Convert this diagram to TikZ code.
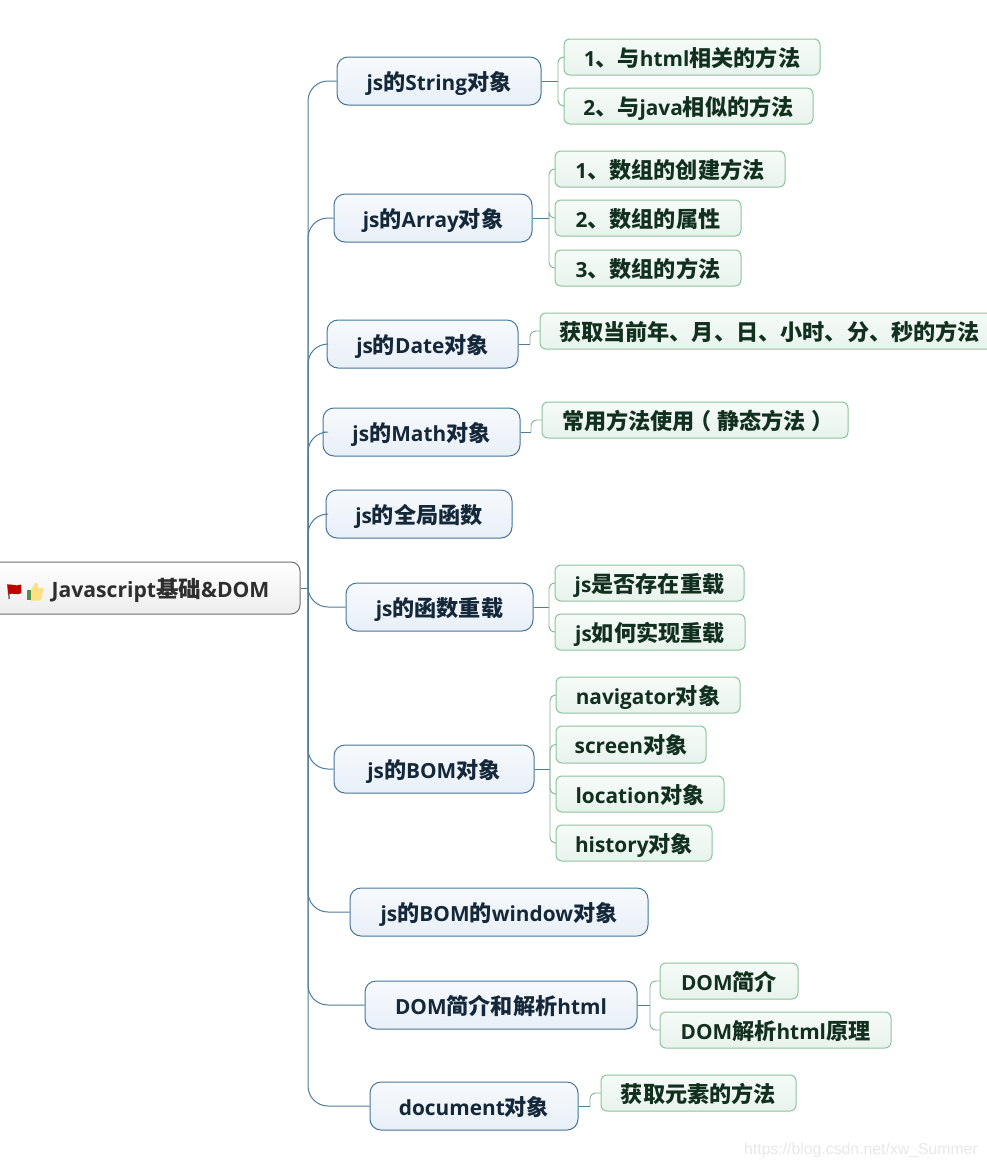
\documentclass[tikz,border=0pt]{standalone}
\usepackage{fontspec}
\setmainfont{Open Sans}[BoldFont={Open Sans Bold},Scale=0.94]
\newfontfamily\cjk{Noto Sans CJK SC}
\newfontfamily\wm{Liberation Sans}
\newcommand{\Zh}[1]{{\cjk #1}}
\newcommand{\Zl}{\hspace{-6pt}\Zh{（}\hspace{6pt}}
\newcommand{\Zr}{\hspace{6pt}\Zh{）}\hspace{-6pt}}
\definecolor{rootline}{HTML}{6E6E70}
\definecolor{oneline}{HTML}{47759A}
\definecolor{twoline}{HTML}{8CC49E}
\definecolor{trunk}{HTML}{4F7C9C}
\definecolor{twolink}{HTML}{86B596}
\definecolor{onetext}{HTML}{14283A}
\definecolor{twotext}{HTML}{12301F}
\definecolor{onetop}{HTML}{F7FAFD}
\definecolor{onebot}{HTML}{E8EFF7}
\definecolor{twotop}{HTML}{F6FBF7}
\definecolor{twobot}{HTML}{E8F3EC}
\tikzset{
  x=1pt,y=-1pt,
  boxbase/.style={rounded corners=9pt,line width=1pt,font=\bfseries\fontsize{22.15}{24}\selectfont,align=center,inner sep=0pt},
  rootbox/.style={boxbase,draw=rootline,top color=white,bottom color=black!7,text=black!82,font=\bfseries\fontsize{22.5}{24}\selectfont},
  onebox/.style={boxbase,rounded corners=11pt,draw=oneline,top color=onetop,bottom color=onebot,text=onetext},
  twobox/.style={boxbase,rounded corners=6pt,draw=twoline,top color=twotop,bottom color=twobot,text=twotext},
  trunkline/.style={draw=trunk,line width=1pt,rounded corners=20pt},
  stub/.style={draw=trunk,line width=.8pt},
  twolinkline/.style={draw=twolink,line width=.9pt,rounded corners=6pt},
}
% style, name, x1, y1, x2, y2, text
\newcommand{\BX}[7]{%
  \pgfmathsetmacro{\cxx}{(#3+#5)/2}\pgfmathsetmacro{\cyy}{(#4+#6)/2}%
  \pgfmathsetmacro{\wdd}{#5-#3}\pgfmathsetmacro{\htt}{#6-#4}%
  \node[#1,minimum width=\wdd pt,minimum height=\htt pt] (#2) at (\cxx,\cyy) {\raisebox{-9pt}[0pt][0pt]{#7}};}
\begin{document}
\begin{tikzpicture}
\useasboundingbox (0,0) rectangle (987,1168);
\clip (0,0) rectangle (987,1168);
\fill[white] (0,0) rectangle (987,1168);
% boxes
\BX{rootbox}{root}{-14}{562}{300}{614}{\hspace*{35pt}Javascript\Zh{基础}\&DOM}
\BX{onebox}{a}{337}{57}{541}{105}{js\Zh{的}String\Zh{对象}}
\BX{onebox}{b}{334}{194}{532}{242}{js\Zh{的}Array\Zh{对象}}
\BX{onebox}{c}{327}{320}{518}{368}{js\Zh{的}Date\Zh{对象}}
\BX{onebox}{d}{323}{408}{520}{456}{js\Zh{的}Math\Zh{对象}}
\BX{onebox}{e}{326}{490}{512}{538}{js\Zh{的全局函数}}
\BX{onebox}{f}{346}{583}{533}{631}{js\Zh{的函数重载}}
\BX{onebox}{g}{334}{745}{534}{793}{js\Zh{的}BOM\Zh{对象}}
\BX{onebox}{h}{350}{888}{648}{936}{js\Zh{的}BOM\Zh{的}window\Zh{对象}}
\BX{onebox}{i}{365}{981}{637}{1029}{DOM\Zh{简介和解析}html}
\BX{onebox}{j}{370}{1082}{578}{1130}{document\Zh{对象}}
\BX{twobox}{a1}{564}{39}{820}{75}{1\Zh{、与}html\Zh{相关的方法}}
\BX{twobox}{a2}{564}{88}{813}{124}{2\Zh{、与}java\Zh{相似的方法}}
\BX{twobox}{b1}{555}{151}{785}{187}{1\Zh{、数组的创建方法}}
\BX{twobox}{b2}{555}{200}{741}{236}{2\Zh{、数组的属性}}
\BX{twobox}{b3}{555}{250}{741}{286}{3\Zh{、数组的方法}}
\BX{twobox}{c1}{540}{313}{999}{349}{\Zh{获取当前年、月、日、小时、分、秒的方法}}
\BX{twobox}{d1}{542}{402}{848}{438}{\Zh{常用方法使用}\Zl\Zh{静态方法}\Zr}
\BX{twobox}{f1}{555}{565}{744}{601}{js\Zh{是否存在重载}}
\BX{twobox}{f2}{555}{614}{745}{650}{js\Zh{如何实现重载}}
\BX{twobox}{g1}{556}{677}{740}{713}{navigator\Zh{对象}}
\BX{twobox}{g2}{556}{726}{706}{763}{screen\Zh{对象}}
\BX{twobox}{g3}{556}{776}{724}{812}{location\Zh{对象}}
\BX{twobox}{g4}{556}{825}{712}{861}{history\Zh{对象}}
\BX{twobox}{i1}{660}{963}{798}{999}{DOM\Zh{简介}}
\BX{twobox}{i2}{660}{1012}{891}{1048}{DOM\Zh{解析}html\Zh{原理}}
\BX{twobox}{j1}{601}{1075}{796}{1111}{\Zh{获取元素的方法}}
% trunk
\coordinate (hub) at (308,588);
\draw[stub] (root.east) -- (hub);
\foreach \n in {a,b,c,d,e,f,g,h,i,j}{\draw[trunkline] (hub) |- (\n.west);}
% second level
\coordinate (ha) at (558,81);
\coordinate (hb) at (549,218);
\coordinate (hc) at (530,344);
\coordinate (hd) at (531,432);
\coordinate (hf) at (549,607);
\coordinate (hg) at (550,769);
\coordinate (hi) at (650,1005);
\coordinate (hj) at (590,1106);
\foreach \p/\h in {a/ha,b/hb,c/hc,d/hd,f/hf,g/hg,i/hi,j/hj}{\draw[stub] (\p.east) -- (\h);}
\foreach \h/\k in {ha/a1,ha/a2,hb/b1,hb/b2,hb/b3,hc/c1,hd/d1,hf/f1,hf/f2,hg/g1,hg/g2,hg/g3,hg/g4,hi/i1,hi/i2,hj/j1}{\draw[twolinkline] (\h) |- (\k.west);}
% flag icon
\fill[black!55] (7,584) -- (8.5,584) -- (10,599) -- (8.5,599) -- cycle;
\fill[red!75!black] (7.5,585) .. controls (11,583) and (15,587) .. (21,584.5) -- (21.5,593) .. controls (17,596) and (12,592) .. (8.5,594.5) -- cycle;
% thumb icon
\fill[green!40!black!70] (27,590) rectangle (31,600);
\fill[orange!50!yellow!50!white] (31,590) -- (35.5,582.5) .. controls (37.5,582) and (38.5,584) .. (38,588) -- (42,588) .. controls (43.5,588) and (43.5,590) .. (43,591) -- (41.5,599) .. controls (41,600) and (40,600.5) .. (39,600.5) -- (31,600.5) -- cycle;
% watermark
\node[font=\wm\fontsize{15.8}{18}\selectfont,text=black!9,inner sep=0pt] (mark) at (861,1150) {https://blog.csdn.net/xw\_Summer};
\end{tikzpicture}
\end{document}
